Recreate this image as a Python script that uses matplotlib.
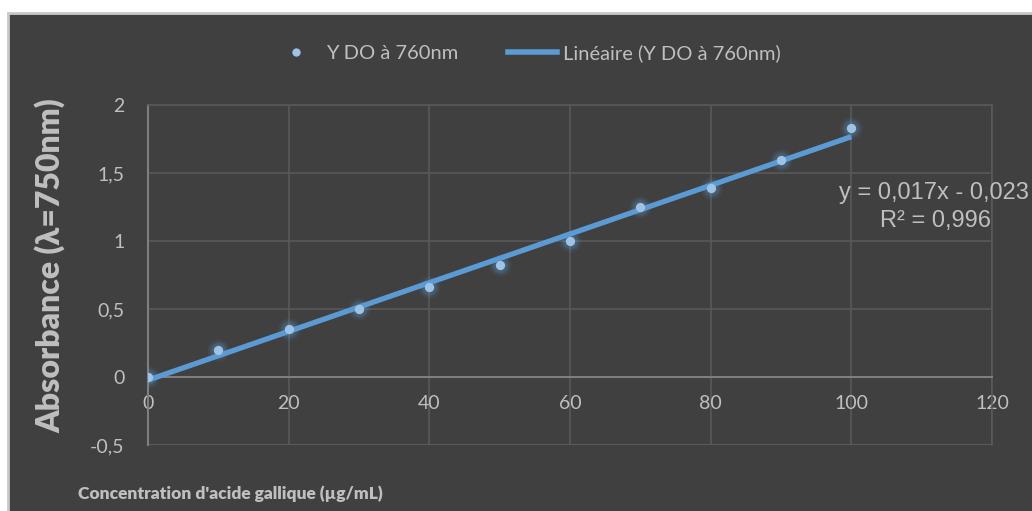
import numpy as np
import matplotlib.pyplot as plt
from matplotlib.lines import Line2D
from matplotlib.patches import Rectangle
from matplotlib.ticker import FuncFormatter, MultipleLocator

# data
conc = [0, 10, 20, 30, 40, 50, 60, 70, 80, 90, 100]
absorb = [0.0, 0.20, 0.35, 0.50, 0.66, 0.82, 1.00, 1.25, 1.39, 1.595, 1.83]
series_name = 'Y DO à 760nm'
trend_name = 'Linéaire (Y DO à 760nm)'
eq_text = 'y = 0,017x - 0,023'
r2_text = 'R² = 0,996'

BG = '#404040'
GRID = '#595959'
TXT = '#bfbfbf'
LINE = '#5b9bd5'
DOT = '#9dc3e6'
FONT = 'Lato'

fig = plt.figure(figsize=(10.32, 5.11), dpi=100)
fig.patch.set_facecolor('white')
fig.patches.append(Rectangle((8 / 1032, -0.1), 1.1, (511 - 13) / 511 + 0.1,
                             transform=fig.transFigure, facecolor=BG,
                             edgecolor='#c8c8c8', linewidth=2, zorder=-10))

ax = fig.add_axes([148 / 1032, 1 - 445 / 511, (992 - 148) / 1032, (445 - 105) / 511])
ax.set_facecolor(BG)
ax.set_xlim(0, 120)
ax.set_ylim(-0.5, 2)
ax.xaxis.set_major_locator(MultipleLocator(20))
ax.yaxis.set_major_locator(MultipleLocator(0.5))
ax.grid(True, color=GRID, linewidth=1.2, zorder=0)
ax.set_axisbelow(True)
ax.axhline(-0.5, color=GRID, linewidth=1.5, zorder=1)

for s in ['top', 'right']:
    ax.spines[s].set_color(GRID)
    ax.spines[s].set_linewidth(1.2)
for s in ['left', 'bottom']:
    ax.spines[s].set_color('#7f7f7f')
    ax.spines[s].set_linewidth(1.5)
ax.spines['bottom'].set_position(('data', 0))

ax.yaxis.set_major_formatter(FuncFormatter(lambda v, p: ('%g' % v).replace('.', ',')))
ax.tick_params(axis='both', length=0, colors=TXT, labelsize=14)
ax.tick_params(axis='x', pad=13)
ax.tick_params(axis='y', pad=17)
for lab in ax.get_xticklabels() + ax.get_yticklabels():
    lab.set_fontfamily(FONT)

# linear trendline fitted from the data
slope, intercept = np.polyfit(conc, absorb, 1)
xfit = np.array([min(conc), max(conc)])
ax.plot(xfit, slope * xfit + intercept, color=LINE, linewidth=3.8,
        solid_capstyle='butt', zorder=4)

# points with a soft glow
for size, alpha in [(260, 0.08), (170, 0.12), (110, 0.18)]:
    ax.scatter(conc, absorb, s=size, color=LINE, alpha=alpha, linewidths=0, zorder=3)
ax.scatter(conc, absorb, s=45, color=DOT, linewidths=0, zorder=5)

ax.text(1.044, 0.741, eq_text, transform=ax.transAxes, ha='right', va='center',
        color=TXT, fontsize=17, family='Liberation Sans', clip_on=False)
ax.text(0.999, 0.659, r2_text, transform=ax.transAxes, ha='right', va='center',
        color=TXT, fontsize=17, family='Liberation Sans')

ax.set_ylabel('Absorbance (λ=750nm)', fontsize=23, fontweight='heavy', color=TXT,
              family=FONT)
ax.yaxis.set_label_coords(-0.098, 0.526)
fig.text(230 / 1032, 1 - 494 / 511, "Concentration d'acide gallique (µg/mL)",
         ha='center', va='center', color=TXT, fontsize=12.5, fontweight='heavy',
         family=FONT)

handles = [Line2D([], [], linestyle='none', marker='o', markersize=6,
                  markerfacecolor=DOT, markeredgewidth=0),
           Line2D([], [], color=LINE, linewidth=4)]
leg = fig.legend(handles, [series_name, trend_name],
                 loc='center', bbox_to_anchor=(526 / 1032, 1 - 53 / 511), ncol=2,
                 frameon=False, handlelength=2.4, handletextpad=0.3,
                 columnspacing=2.5, prop={'family': FONT, 'size': 14.5})
for t in leg.get_texts():
    t.set_color(TXT)

fig.savefig('out.png', dpi=100, facecolor=fig.get_facecolor())
